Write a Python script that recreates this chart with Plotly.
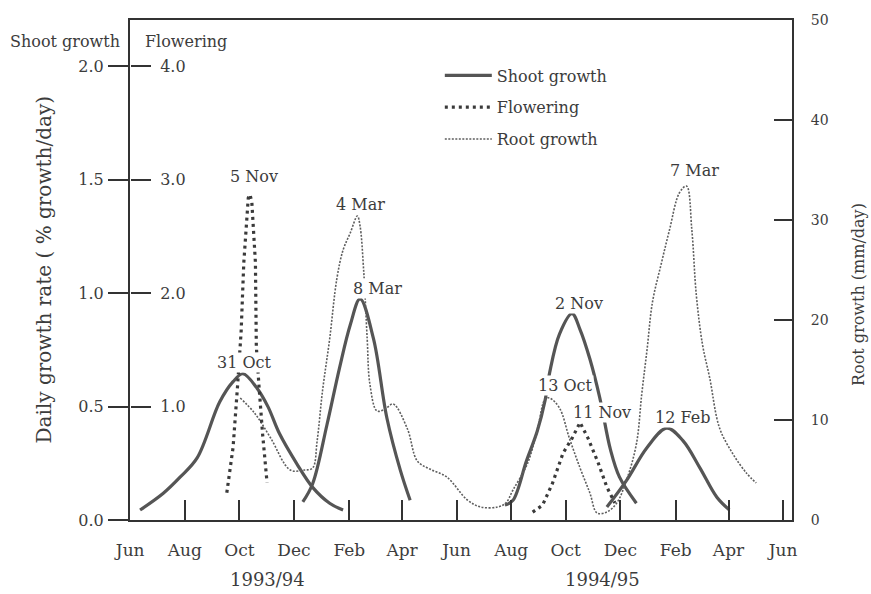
import plotly.graph_objects as go

# ---------------- data ----------------
month_ticks = ['1993-06-01', '1993-08-01', '1993-10-01', '1993-12-01', '1994-02-01', '1994-04-01',
               '1994-06-01', '1994-08-01', '1994-10-01', '1994-12-01', '1995-02-01', '1995-04-01',
               '1995-06-01']
month_labels = ['Jun', 'Aug', 'Oct', 'Dec', 'Feb', 'Apr', 'Jun', 'Aug', 'Oct', 'Dec', 'Feb', 'Apr', 'Jun']

shoot_ticks = [0, 0.5, 1.0, 1.5, 2.0]
shoot_ticktext = ['0.0', '0.5', '1.0', '1.5', '2.0']
flower_ticks = [1.0, 2.0, 3.0, 4.0]
flower_ticktext = ['1.0', '2.0', '3.0', '4.0']
root_ticks = [0, 10, 20, 30, 40, 50]

# Shoot growth (% growth/day)
shoot1_x = ['1993-06-12', '1993-07-08', '1993-07-27', '1993-08-15', '1993-09-09', '1993-09-24',
            '1993-10-05', '1993-10-21', '1993-11-02', '1993-11-15', '1993-12-04', '1993-12-22',
            '1994-01-10', '1994-01-25']
shoot1_y = [0.044, 0.118, 0.19, 0.275, 0.52, 0.61, 0.645, 0.58, 0.50, 0.38, 0.25, 0.144, 0.074, 0.044]

shoot2_x = ['1993-12-11', '1993-12-22', '1994-01-07', '1994-01-21', '1994-02-02', '1994-02-13',
            '1994-02-28', '1994-03-15', '1994-03-30', '1994-04-10']
shoot2_y = [0.08, 0.16, 0.42, 0.67, 0.86, 0.975, 0.80, 0.45, 0.22, 0.087]

shoot3_x = ['1994-07-25', '1994-08-03', '1994-08-18', '1994-08-30', '1994-09-08', '1994-09-13',
            '1994-09-24', '1994-10-08', '1994-10-17', '1994-10-28', '1994-11-08', '1994-11-20',
            '1994-11-30', '1994-12-19']
shoot3_y = [0.066, 0.087, 0.26, 0.39, 0.53, 0.65, 0.82, 0.91, 0.84, 0.71, 0.54, 0.31, 0.19, 0.074]

shoot4_x = ['1994-11-16', '1994-12-08', '1994-12-31', '1995-01-22', '1995-02-09', '1995-02-28',
            '1995-03-19', '1995-04-02']
shoot4_y = [0.057, 0.175, 0.32, 0.405, 0.35, 0.23, 0.10, 0.044]

# Flowering
flower1_x = ['1993-09-17', '1993-09-24', '1993-09-29', '1993-10-03', '1993-10-06', '1993-10-11',
             '1993-10-13', '1993-10-15', '1993-10-19', '1993-10-20', '1993-10-23', '1993-10-27',
             '1993-11-01']
flower1_y = [0.24, 0.64, 1.18, 1.66, 2.27, 2.84, 2.87, 2.80, 2.27, 1.53, 1.18, 0.76, 0.33]

flower2_x = ['1994-08-25', '1994-09-05', '1994-09-16', '1994-09-28', '1994-10-08', '1994-10-17',
             '1994-10-26', '1994-11-06', '1994-11-16', '1994-11-25']
flower2_y = [0.07, 0.13, 0.32, 0.59, 0.72, 0.86, 0.72, 0.51, 0.29, 0.15]

# Root growth (mm/day)
root_x = ['1993-10-02', '1993-10-18', '1993-11-05', '1993-11-27', '1993-12-13', '1993-12-22',
          '1993-12-27', '1994-01-02', '1994-01-10', '1994-01-18', '1994-01-25', '1994-02-02',
          '1994-02-10', '1994-02-13', '1994-02-17', '1994-02-21', '1994-02-24', '1994-03-04',
          '1994-03-13', '1994-03-22', '1994-04-07', '1994-04-18', '1994-05-02', '1994-05-21',
          '1994-06-13', '1994-06-28', '1994-07-17', '1994-07-26', '1994-08-03', '1994-08-19',
          '1994-08-30', '1994-09-08', '1994-09-13', '1994-09-24', '1994-10-05', '1994-10-17',
          '1994-10-28', '1994-11-05', '1994-11-16', '1994-11-27', '1994-12-08', '1994-12-19',
          '1994-12-25', '1994-12-31', '1995-01-06', '1995-01-16', '1995-01-25', '1995-02-05',
          '1995-02-13', '1995-02-19', '1995-02-24', '1995-03-03', '1995-03-11', '1995-03-22',
          '1995-04-06', '1995-04-21', '1995-05-02']
root_y = [12.2, 10.7, 8.2, 5.0, 5.0, 5.2, 7.9, 12.9, 18.1, 24.1, 27.0, 28.7,
          30.4, 29.4, 25.0, 18.1, 13.6, 10.9, 11.1, 11.6, 9.1, 5.9, 5.1, 4.3,
          2.0, 1.3, 1.3, 1.7, 3.0, 5.6, 8.9, 12.1, 12.2, 11.2, 8.2, 5.2,
          2.7, 0.7, 0.8, 1.7, 4.0, 7.6, 12.6, 17.1, 21.8, 25.7, 29.0, 32.7,
          33.4, 29.0, 22.5, 17.5, 14.2, 9.2, 6.6, 4.7, 3.7]

# Peak labels (placed on shoot axis scale)
peak_labels = ['5 Nov', '31 Oct', '4 Mar', '8 Mar', '2 Nov', '13 Oct', '11 Nov', '12 Feb', '7 Mar']
peak_label_x = ['1993-10-17', '1993-10-07', '1994-02-14', '1994-03-04', '1994-10-16', '1994-10-01',
                '1994-11-11', '1995-02-08', '1995-02-22']
peak_label_y = [1.515, 0.694, 1.393, 1.022, 0.956, 0.594, 0.476, 0.45, 1.541]

year_labels = ['1993/94', '1994/95']

# ---------------- style ----------------
FONT = 'DejaVu Serif'
TXT = '#3c3c3c'
AX = '#333333'
shoot_line = dict(color='#555555', width=3.2)
flower_line = dict(color='#3a3a3a', width=3.2, dash='3px,4px')
root_line = dict(color='#5e5e5e', width=1.6, dash='2px,1.5px')

fig = go.Figure()

# root first (underneath)
fig.add_trace(go.Scatter(x=root_x, y=root_y, yaxis='y2', mode='lines', line=root_line,
                         line_shape='spline', name='Root growth', legendgroup='root',
                         legendrank=3))

shoot_sets = [(shoot1_x, shoot1_y), (shoot2_x, shoot2_y), (shoot3_x, shoot3_y), (shoot4_x, shoot4_y)]
for i, (sx, sy) in enumerate(shoot_sets):
    fig.add_trace(go.Scatter(x=sx, y=sy, mode='lines', line=shoot_line, line_shape='spline',
                             name='Shoot growth', legendgroup='shoot', showlegend=(i == 0),
                             legendrank=1))

for i, (fx, fy) in enumerate([(flower1_x, flower1_y), (flower2_x, flower2_y)]):
    fig.add_trace(go.Scatter(x=fx, y=fy, yaxis='y3', mode='lines', line=flower_line,
                             name='Flowering', legendgroup='flower', showlegend=(i == 0),
                             legendrank=2))

annotations = []
for t, ax_, ay_ in zip(peak_labels, peak_label_x, peak_label_y):
    annotations.append(dict(x=ax_, y=ay_, xref='x', yref='y', text=t, showarrow=False,
                            xanchor='center', yanchor='middle',
                            font=dict(family=FONT, size=16, color=TXT),
                            bgcolor='white', borderpad=0))

annotations += [
    dict(x=-0.012, y=0.958, xref='paper', yref='paper', text='Shoot growth', showarrow=False,
         xanchor='right', yanchor='middle', font=dict(family=FONT, size=16, color=TXT)),
    dict(x=0.0196, y=0.958, xref='paper', yref='paper', text='Flowering', showarrow=False,
         xanchor='left', yanchor='middle', font=dict(family=FONT, size=16, color=TXT)),
    dict(x=0.207, y=-0.119, xref='paper', yref='paper', text=year_labels[0], showarrow=False,
         xanchor='center', yanchor='middle', font=dict(family=FONT, size=18, color=TXT)),
    dict(x=0.713, y=-0.119, xref='paper', yref='paper', text=year_labels[1], showarrow=False,
         xanchor='center', yanchor='middle', font=dict(family=FONT, size=18, color=TXT)),
    dict(x=-0.13, y=0.501, xref='paper', yref='paper', text='Daily growth rate ( % growth/day)',
         textangle=-90, showarrow=False, xanchor='center', yanchor='middle',
         font=dict(family=FONT, size=20, color=TXT)),
    dict(x=1.0997, y=0.45, xref='paper', yref='paper', text='Root growth (mm/day)',
         textangle=-90, showarrow=False, xanchor='center', yanchor='middle',
         font=dict(family=FONT, size=16, color=TXT)),
]

fig.update_layout(
    width=871, height=594,
    margin=dict(l=130, r=79, t=12, b=74),
    paper_bgcolor='white', plot_bgcolor='white',
    font=dict(family=FONT, color=TXT),
    xaxis=dict(type='date', range=['1993-05-31 18:00', '1995-06-11'], tickvals=month_ticks,
               ticktext=month_labels, ticks='inside', ticklen=20, tickwidth=2, tickcolor=AX,
               showline=True, linewidth=2, linecolor=AX, mirror=True, showgrid=False,
               zeroline=False, tickfont=dict(family=FONT, size=17, color=TXT),
               ticklabelstandoff=14),
    yaxis=dict(range=[0, 2.205], tickvals=shoot_ticks, ticktext=shoot_ticktext, ticks='outside',
               ticklen=20, tickwidth=2, tickcolor=AX, showline=True, linewidth=2, linecolor=AX,
               showgrid=False, zeroline=False, ticklabelstandoff=1,
               tickfont=dict(family=FONT, size=16, color=TXT)),
    yaxis3=dict(range=[0, 4.41], overlaying='y', side='right', anchor='free', position=0,
                tickvals=flower_ticks, ticktext=flower_ticktext, ticks='outside', ticklen=20,
                tickwidth=2, tickcolor=AX, ticklabelstandoff=6, showline=False, showgrid=False,
                zeroline=False, automargin=False,
                tickfont=dict(family=FONT, size=16, color=TXT)),
    yaxis2=dict(range=[0, 50], overlaying='y', side='right', anchor='x', tickvals=root_ticks,
                ticks='inside', ticklen=18, tickwidth=2, tickcolor=AX, showline=True, linewidth=2,
                linecolor=AX, showgrid=False, zeroline=False, ticklabelstandoff=14,
                tickfont=dict(family=FONT, size=14, color=TXT)),
    legend=dict(x=0.468, y=0.923, xanchor='left', yanchor='top', bgcolor='rgba(0,0,0,0)',
                font=dict(family=FONT, size=16, color=TXT), itemwidth=47, tracegroupgap=8),
    annotations=annotations,
)

fig.write_html('out.html', config={'displayModeBar': False},
               post_script="document.body.style.margin='0';")
